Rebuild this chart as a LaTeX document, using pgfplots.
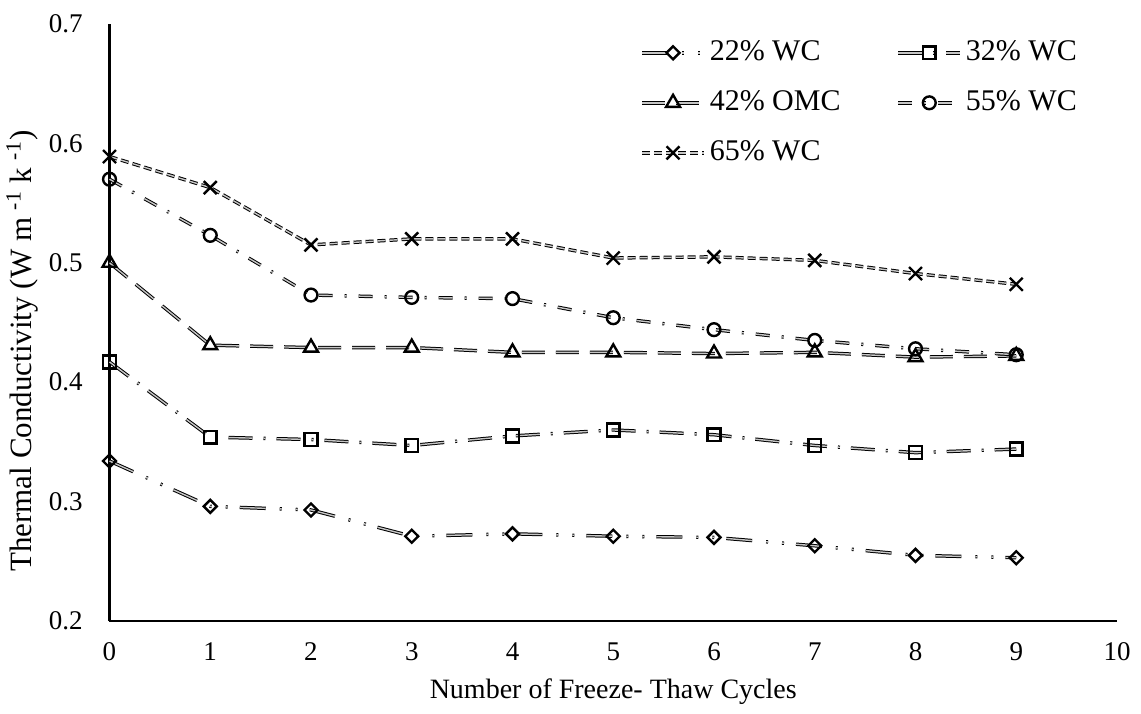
\documentclass[border=0pt]{standalone}
\usepackage{fontspec}
\setmainfont{Liberation Serif}
\usepackage{pgfplots}
\pgfplotsset{compat=1.18}
\begin{document}
\fontsize{13.5}{16}\selectfont
\begin{tikzpicture}
\begin{axis}[
  scale only axis, width=503.75pt, height=298.5pt,
  xmin=0, xmax=10, ymin=0.2, ymax=0.7,
  axis lines=left, axis line style={line width=1.2pt,-},
  xtick={0,1,2,3,4,5,6,7,8,9,10},
  ytick={0.2,0.3,0.4,0.5,0.6,0.7},
  major tick length=0pt,
  /pgf/number format/assume math mode=true,
  yticklabel style={/pgf/number format/fixed, /pgf/number format/precision=1, /pgf/number format/fixed zerofill, xshift=-8.75pt},
  xticklabel style={yshift=-6pt},
  xlabel={Number of Freeze- Thaw Cycles},
  xlabel style={at={(axis description cs:0.5,-0.119)}, anchor=center, font=\fontsize{14}{16}\selectfont},
  ylabel={Thermal Conductivity (W m\ \textsuperscript{-1} k\ \textsuperscript{-1})},
  ylabel style={at={(axis description cs:-0.0868,0.452)}, anchor=center, font=\fontsize{15.5}{17}\selectfont},
  clip=false,
  legend columns=2,
  legend cell align=left,
  legend style={at={(axis cs:5.265,0.6896)}, anchor=north west, draw=none, fill=none, inner sep=0pt, row sep=9pt,
    font=\fontsize{15}{17}\selectfont,
    /tikz/every even column/.append style={column sep=26pt}},
  legend image code/.code={\draw[mark repeat=2,mark phase=2] plot coordinates {(0pt,0pt) (15.5pt,0pt) (31pt,0pt)};},
  every axis plot/.append style={black, line width=0.5pt, double=gray!45, double distance=0.7pt},
]
\addplot[dash pattern=on 13pt off 7pt on 1pt off 7pt on 1pt off 6pt, mark=square, mark size=2.3pt, mark options={solid, fill=white, line width=1.2pt, rotate=45}]
coordinates {(0,0.334)(1,0.296)(2,0.293)(3,0.271)(4,0.273)(5,0.271)(6,0.270)(7,0.263)(8,0.255)(9,0.253)};
\addlegendentry{22\% WC}
\addplot[dash pattern=on 12pt off 5.5pt on 1pt off 5.5pt, mark=square, mark size=3.2pt, mark options={solid, fill=white, line width=1.2pt}]
coordinates {(0,0.417)(1,0.354)(2,0.352)(3,0.347)(4,0.355)(5,0.360)(6,0.356)(7,0.347)(8,0.341)(9,0.344)};
\addlegendentry{32\% WC}
\addplot[dash pattern=on 11.5pt off 5.5pt, mark=triangle, mark size=4pt, mark options={solid, fill=white, line width=1.2pt}]
coordinates {(0,0.500)(1,0.431)(2,0.429)(3,0.429)(4,0.425)(5,0.425)(6,0.424)(7,0.425)(8,0.421)(9,0.422)};
\addlegendentry{42\% OMC}
\addplot[dash pattern=on 7pt off 6pt on 1pt off 6pt, mark=o, mark size=3.2pt, mark options={solid, fill=white, line width=1.2pt}]
coordinates {(0,0.570)(1,0.523)(2,0.473)(3,0.471)(4,0.470)(5,0.454)(6,0.444)(7,0.435)(8,0.428)(9,0.423)};
\addlegendentry{55\% WC}
\addplot[dash pattern=on 4pt off 2pt, mark=x, mark size=4.6pt, mark options={solid, line width=1.2pt}]
coordinates {(0,0.589)(1,0.563)(2,0.515)(3,0.520)(4,0.520)(5,0.504)(6,0.505)(7,0.502)(8,0.491)(9,0.482)};
\addlegendentry{65\% WC}
\coordinate (O) at (rel axis cs:0,0);
\end{axis}
\pgfresetboundingbox
\path (O) ++(-54.75pt,-46pt) rectangle ++(570.5pt,356.5pt);
\end{tikzpicture}
\end{document}
